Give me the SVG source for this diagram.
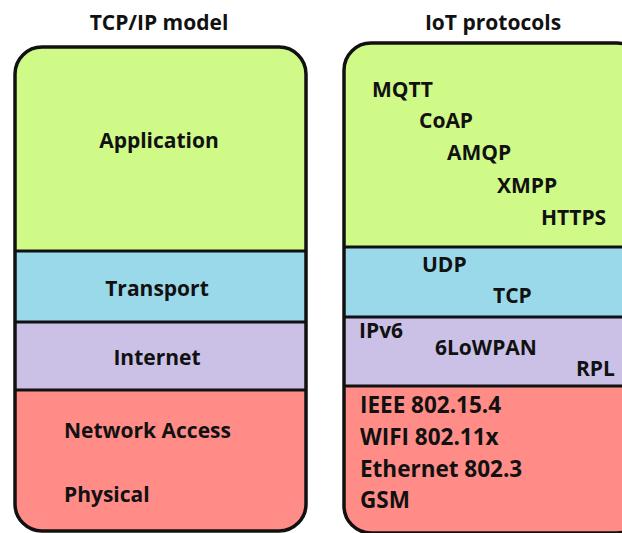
<svg xmlns="http://www.w3.org/2000/svg" width="622" height="533" viewBox="0 0 622 533">
<style>
text{font-family:"Open Sans","Noto Sans","Liberation Sans",sans-serif;font-weight:700;font-size:21px;fill:#111}
.t{font-size:21px}
.c{text-anchor:middle}
.big{font-size:22.5px}
.app{fill:#cffa88}
.tr{fill:#9ad9ea}
.in{fill:#cbc1e6}
.na{fill:#ff8c87}
.div{stroke:#111;stroke-width:3}
.box{fill:none;stroke:#111;stroke-width:3.5}
</style>
<defs>
<clipPath id="cl"><rect x="15" y="47" width="291" height="484" rx="27"/></clipPath>
<clipPath id="cr"><rect x="344" y="43" width="300" height="490" rx="27"/></clipPath>
</defs>
<text class="t c" x="159" y="30">TCP/IP model</text>
<text class="t c" x="493" y="30">IoT protocols</text>
<g id="tcpip" clip-path="url(#cl)">
<g id="l-app"><rect class="app" x="0" y="40" width="320" height="211"/><text class="c" x="159" y="148">Application</text></g>
<g id="l-tr"><rect class="tr" x="0" y="251" width="320" height="71"/><text class="c" x="157" y="296">Transport</text></g>
<g id="l-in"><rect class="in" x="0" y="322" width="320" height="68"/><text class="c" x="157" y="365">Internet</text></g>
<g id="l-na"><rect class="na" x="0" y="390" width="320" height="150"/><text x="64" y="438">Network Access</text><text x="64" y="502">Physical</text></g>
</g>
<g id="iot" clip-path="url(#cr)">
<g id="r-app"><rect class="app" x="330" y="30" width="320" height="217"/>
<text x="372" y="97">MQTT</text><text x="419" y="128">CoAP</text><text x="447" y="160">AMQP</text><text x="497" y="193">XMPP</text><text x="541" y="225">HTTPS</text></g>
<g id="r-tr"><rect class="tr" x="330" y="247" width="320" height="70"/><text x="422" y="272">UDP</text><text x="493" y="303">TCP</text></g>
<g id="r-in"><rect class="in" x="330" y="317" width="320" height="69"/><text x="359" y="338">IPv6</text><text x="435" y="355">6LoWPAN</text><text x="576" y="376">RPL</text></g>
<g id="r-na"><rect class="na" x="330" y="386" width="320" height="160"/><text class="big" x="360" y="413">IEEE 802.15.4</text><text class="big" x="360" y="445">WIFI 802.11x</text><text class="big" x="360" y="477">Ethernet 802.3</text><text class="big" x="360" y="508">GSM</text></g>
</g>
<g id="connectors">
<line class="div" x1="15" y1="251" x2="306" y2="251"/>
<line class="div" x1="15" y1="322" x2="306" y2="322"/>
<line class="div" x1="15" y1="390" x2="306" y2="390"/>
<line class="div" x1="344" y1="247" x2="644" y2="247"/>
<line class="div" x1="344" y1="317" x2="644" y2="317"/>
<line class="div" x1="344" y1="386" x2="644" y2="386"/>
</g>
<rect class="box" x="15" y="47" width="291" height="484" rx="27"/>
<rect class="box" x="344" y="43" width="300" height="490" rx="27"/>
</svg>
